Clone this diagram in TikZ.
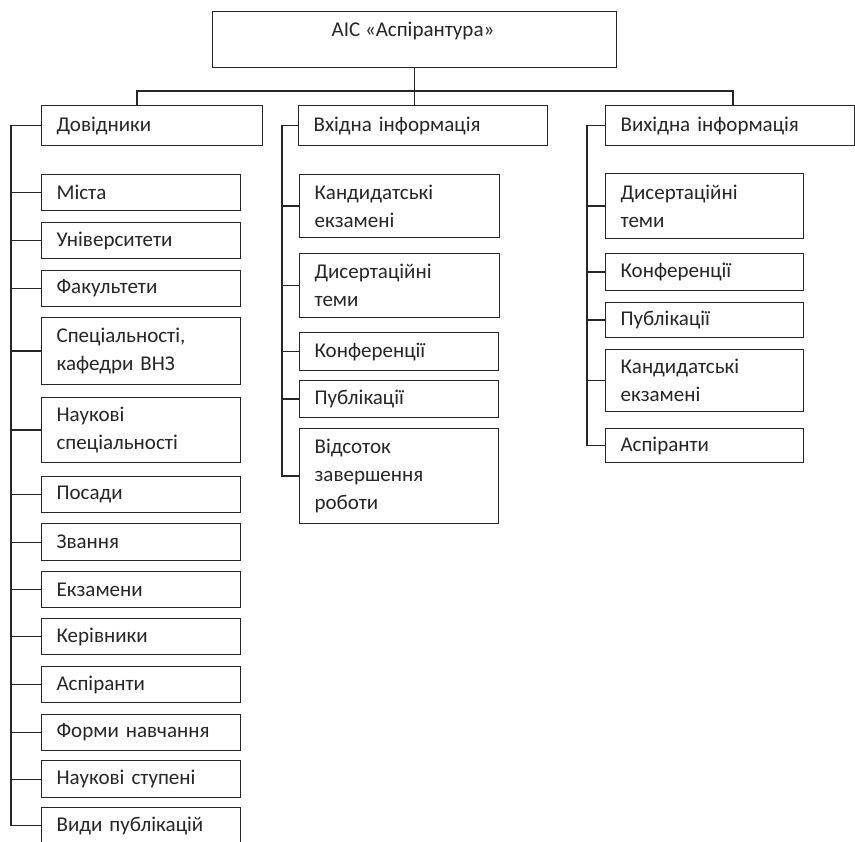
\documentclass[tikz,border=0pt]{standalone}
\usepackage{fontspec}
\setmainfont{Carlito}
\begin{document}
\begin{tikzpicture}[x=1pt,y=-1pt,
  lbl/.style={font=\fontsize{21}{28}\selectfont, text=black!85},
  box/.style={lbl, draw=black!85, line width=1.2pt, rectangle, anchor=north west,
    inner xsep=15pt, inner ysep=0pt, align=left},
  wire/.style={draw=black!85, line width=1.2pt}]
% name, left, top, width, height, text
\newcommand\infobox[6]{%
  \pgfmathsetlengthmacro\boxtw{#4-30}%
  \node[box, minimum width=#4pt, minimum height=#5pt, text width=\boxtw] (#1) at (#2,#3) {#6};}
\clip (0,0) rectangle (855,842);
\fill[white] (0,0) rectangle (855,842);

% root
\node[box, minimum width=404pt, minimum height=56pt] (root) at (212,11) {};
\node[lbl, anchor=base, inner sep=0pt] (rootlbl) at (413,37) {АІС «Аспірантура»};

% second level
\infobox{dov}{41}{105}{221}{40}{Довідники}
\infobox{vkh}{298}{105}{249}{40}{Вхідна інформація}
\infobox{vyk}{605}{105}{249}{40}{Вихідна інформація}

% reference books
\infobox{m1}{41}{174}{199}{36}{Міста}
\infobox{m2}{41}{222}{199}{36}{Університети}
\infobox{m3}{41}{270}{199}{36}{Факультети}
\infobox{m4}{41}{317}{199}{67}{Спеціальності,\\кафедри ВНЗ}
\infobox{m5}{41}{397}{199}{65}{Наукові\\спеціальності}
\infobox{m6}{41}{476}{199}{36}{Посади}
\infobox{m7}{41}{523}{199}{37}{Звання}
\infobox{m8}{41}{571}{199}{36}{Екзамени}
\infobox{m9}{41}{618}{199}{36}{Керівники}
\infobox{m10}{41}{666}{199}{36}{Аспіранти}
\infobox{m11}{41}{714}{199}{36}{Форми навчання}
\infobox{m12}{41}{760}{199}{37}{Наукові ступені}
\infobox{m13}{41}{807}{199}{36}{Види публікацій}

% input data
\infobox{v1}{299}{174}{200}{63}{Кандидатські\\екзамені}
\infobox{v2}{299}{253}{200}{64}{Дисертаційні\\теми}
\infobox{v3}{299}{332}{199}{38}{Конференції}
\infobox{v4}{299}{380}{199}{37}{Публікації}
\infobox{v5}{299}{428}{199}{95}{Відсоток\\завершення\\роботи}

% output data
\infobox{o1}{605}{173}{198}{65}{Дисертаційні\\теми}
\infobox{o2}{605}{253}{198}{37}{Конференції}
\infobox{o3}{605}{302}{198}{35}{Публікації}
\infobox{o4}{605}{349}{198}{62}{Кандидатські\\екзамені}
\infobox{o5}{605}{428}{198}{34}{Аспіранти}

% bus from the root
\coordinate (busL) at (137,91);
\coordinate (busR) at (733,91);
\draw[wire] (root.south) -- (root.south |- vkh.north);
\draw[wire] (busL |- dov.north) -- (busL) -- (busR) -- (busR |- vyk.north);

% trunks
\coordinate (tL) at (11,0);
\coordinate (tM) at (282,0);
\coordinate (tR) at (587,0);
\draw[wire] (dov.west) -- (dov.west -| tL) -- (m13.west -| tL) -- (m13.west);
\foreach \c in {m1,m2,m3,m4,m5,m6,m7,m8,m9,m10,m11,m12}
  \draw[wire] (\c.west -| tL) -- (\c.west);
\draw[wire] (vkh.west) -- (vkh.west -| tM) -- (v5.west -| tM) -- (v5.west);
\foreach \c in {v1,v2,v3,v4}
  \draw[wire] (\c.west -| tM) -- (\c.west);
\draw[wire] (vyk.west) -- (vyk.west -| tR) -- (o5.west -| tR) -- (o5.west);
\foreach \c in {o1,o2,o3,o4}
  \draw[wire] (\c.west -| tR) -- (\c.west);
\end{tikzpicture}
\end{document}
